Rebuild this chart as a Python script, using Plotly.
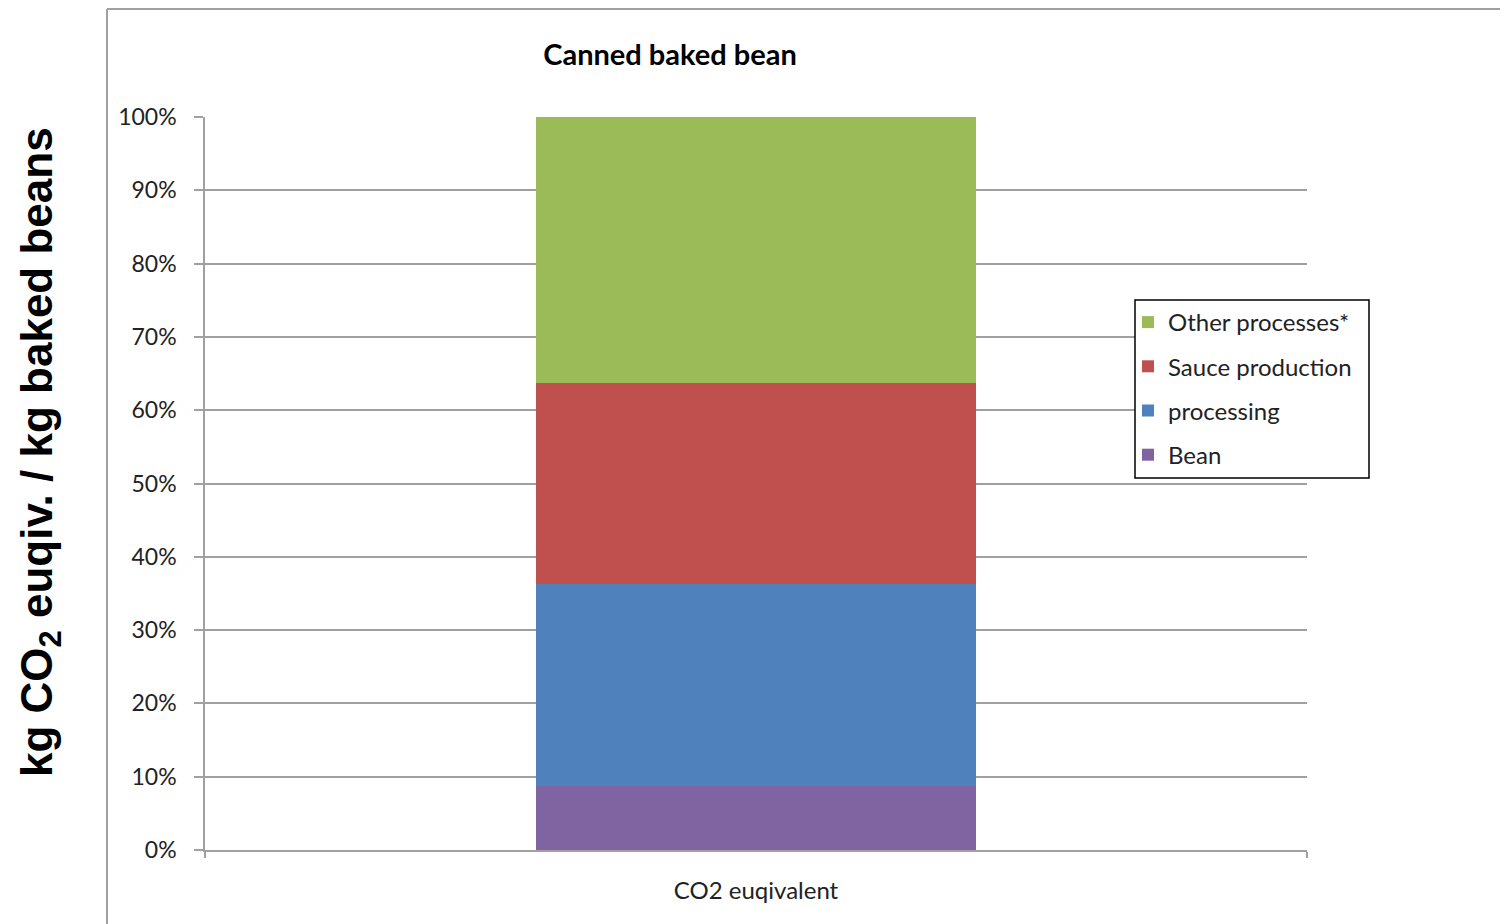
import plotly.graph_objects as go

categories = ["CO2 euqivalent"]
series_names = ["Bean", "processing", "Sauce production", "Other processes*"]
bean = [8.8]
processing = [27.45]
sauce = [27.45]
other = [36.3]
colors = ["#8064A2", "#4F81BD", "#C0504D", "#9BBB59"]
y_ticks = [0, 10, 20, 30, 40, 50, 60, 70, 80, 90, 100]
y_ticktext = [f"{v}%" for v in y_ticks]

OFF = 8  # browser body margin
W, H = 1508 - OFF, 924 - OFF
# plot area in screen pixels (reference)
SL, SR, ST, SB = 205, 1307, 117, 850
L, R, T, B = SL - OFF, SR - OFF, ST - OFF, SB - OFF

fig = go.Figure()
n = len(series_names)
for i, (name, vals) in enumerate(zip(series_names, [bean, processing, sauce, other])):
    fig.add_trace(go.Bar(
        x=categories, y=vals, name=name, marker_color=colors[i],
        marker_line_width=0, legendgroup=name, legendrank=n - i,
    ))

def px_x(px):
    return (px - SL) / (SR - SL)

def px_y(py):
    return (SB - py) / (SB - ST)

gray = "#A0A0A0"
txt = "#222222"
font = "Lato"
fig.update_layout(
    width=W, height=H,
    margin=dict(l=L, r=W - R, t=T, b=H - B, autoexpand=False),
    barmode="stack", bargap=0.6,
    plot_bgcolor="white", paper_bgcolor="white",
    showlegend=True,
    legend=dict(
        x=px_x(1128), y=px_y(300), xanchor="left", yanchor="top",
        traceorder="grouped", tracegroupgap=10,
        borderwidth=0, bgcolor="rgba(0,0,0,0)",
        font=dict(family=font, size=24, color=txt),
        itemwidth=30,
    ),
    title=dict(text="<b>Canned baked bean</b>", x=px_x(670), xanchor="center",
               xref="paper", y=1 - (55 - OFF) / H, yanchor="middle",
               font=dict(family=font, size=29, color="#000000")),
    yaxis=dict(range=[0, 100], tickvals=y_ticks, ticktext=y_ticktext,
               showgrid=True, gridcolor=gray, gridwidth=1.5,
               showline=True, linecolor=gray, linewidth=1.5,
               ticks="outside", ticklen=9, tickcolor=gray, tickwidth=1.5,
               tickfont=dict(family=font, size=23, color=txt),
               ticklabelstandoff=13, zeroline=False),
    xaxis=dict(showline=True, linecolor=gray, linewidth=1.5,
               ticks="outside", ticklen=6, tickcolor=gray, tickwidth=1.5,
               tickson="boundaries",
               tickfont=dict(family=font, size=24, color=txt),
               ticklabelstandoff=18),
    shapes=[
        dict(type="line", xref="paper", yref="paper", x0=px_x(107), x1=px_x(1520),
             y0=px_y(9), y1=px_y(9), line=dict(color=gray, width=2)),
        dict(type="line", xref="paper", yref="paper", x0=px_x(107), x1=px_x(107),
             y0=px_y(9), y1=px_y(940), line=dict(color=gray, width=2)),
        dict(type="rect", xref="paper", yref="paper", x0=px_x(1135), x1=px_x(1369),
             y0=px_y(478), y1=px_y(300), line=dict(color="black", width=1.5),
             fillcolor="white", layer="above"),
    ],
    annotations=[
        dict(text="<b>kg CO<sub>2</sub> euqiv. / kg baked beans</b>", textangle=-90,
             xref="paper", yref="paper", x=px_x(40), y=px_y(452),
             xanchor="center", yanchor="middle", showarrow=False,
             font=dict(family="Liberation Sans", size=44, color="#000000")),
    ],
)

fig.write_html("out.html")
